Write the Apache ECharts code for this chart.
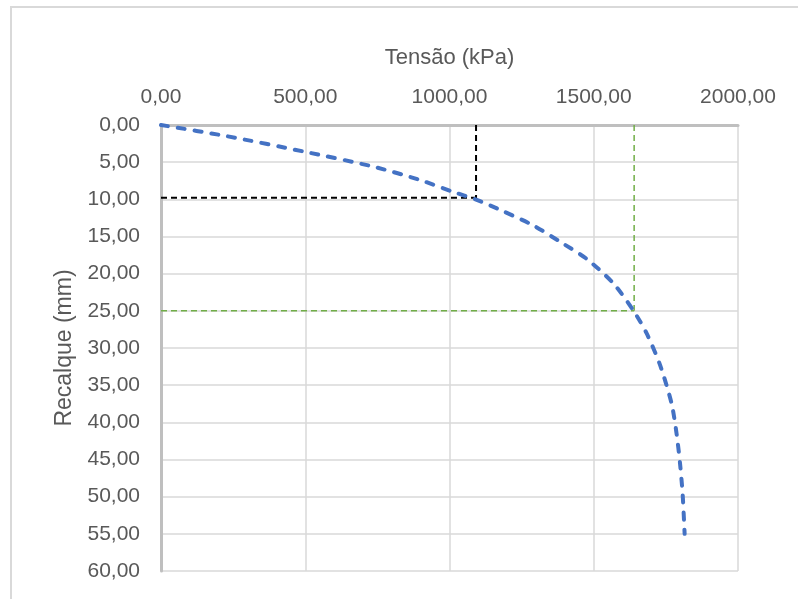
<!DOCTYPE html>
<html>
<head>
<meta charset="utf-8">
<script src="https://cdn.jsdelivr.net/npm/echarts@6/dist/echarts.min.js"></script>
<style>html,body{margin:0;padding:0;background:#fff}#c{width:798px;height:599px}</style>
</head>
<body>
<div id="c"></div>
<script>
// Curve: Tensão (kPa) vs Recalque (mm)
const tensao   = [0, 228, 499, 736, 898, 1013, 1090, 1186, 1290, 1383, 1475, 1568, 1638, 1683, 1730, 1770, 1787, 1799, 1808, 1815];
const recalque = [0, 1.5, 3.6, 5.6, 7.4, 9.0, 10.0, 11.6, 13.5, 15.7, 18.0, 21.3, 25.0, 28.0, 32.3, 37.5, 41.5, 45.5, 49.6, 55.0];
// Reference lines
const blackV = [[1092, 0], [1092, 10]];
const blackH = [[0, 9.8], [1092, 9.8]];
const greenV = [[1640, 0], [1640, 25]];
const greenH = [[0, 25], [1640, 25]];
const xTicks = { min: 0, max: 2000, interval: 500 };
const yTicks = { min: 0, max: 60, interval: 5 };

const fmt = v => v.toFixed(2).replace('.', ',');
const FONT = '"Liberation Sans", Arial, sans-serif';
const chart = echarts.init(document.getElementById('c'), null, { renderer: 'canvas' });
const lineSeries = (data, color, width, dash, cap) => ({
  type: 'line', data, showSymbol: false, symbol: 'none', silent: true,
  lineStyle: { color, width, type: dash, cap: cap || 'butt' }, z: 2, animation: false
});
chart.setOption({
  animation: false,
  graphic: [{
    type: 'rect', shape: { x: 11, y: 7, width: 800, height: 600 },
    style: { fill: 'none', stroke: '#d9d9d9', lineWidth: 2 }, z: -1
  }],
  grid: { left: 161, right: 60, top: 125, bottom: 28 },
  xAxis: {
    type: 'value', position: 'top', min: xTicks.min, max: xTicks.max, interval: xTicks.interval,
    name: 'Tensão (kPa)', nameLocation: 'middle', nameGap: 56,
    nameTextStyle: { color: '#595959', fontSize: 22, fontFamily: FONT },
    axisLine: { show: true, lineStyle: { color: '#bfbfbf', width: 3 } },
    axisTick: { show: false },
    axisLabel: { color: '#595959', fontSize: 21, fontFamily: FONT, margin: 17, formatter: fmt },
    splitLine: { show: true, lineStyle: { color: '#d9d9d9', width: 1.5 } }
  },
  yAxis: {
    type: 'value', inverse: true, min: yTicks.min, max: yTicks.max, interval: yTicks.interval,
    name: 'Recalque (mm)', nameLocation: 'middle', nameGap: 85, nameRotate: 90,
    nameTextStyle: { color: '#595959', fontSize: 23, fontFamily: FONT },
    axisLine: { show: true, lineStyle: { color: '#bfbfbf', width: 3 } },
    axisTick: { show: false },
    axisLabel: { color: '#595959', fontSize: 21, fontFamily: FONT, margin: 21, formatter: fmt },
    splitLine: { show: true, lineStyle: { color: '#d9d9d9', width: 1.5 } }
  },
  series: [
    lineSeries(blackV, '#000000', 2, [6, 4]),
    lineSeries(blackH, '#000000', 2, [6, 4]),
    lineSeries(greenV, '#70ad47', 1.5, [6, 4]),
    lineSeries(greenH, '#70ad47', 1.5, [6, 4]),
    Object.assign(lineSeries(tensao.map((x, i) => [x, recalque[i]]), '#4472c4', 4, [7, 10], 'round'), { smooth: 0.25, z: 3 })
  ]
});
</script>
</body>
</html>
